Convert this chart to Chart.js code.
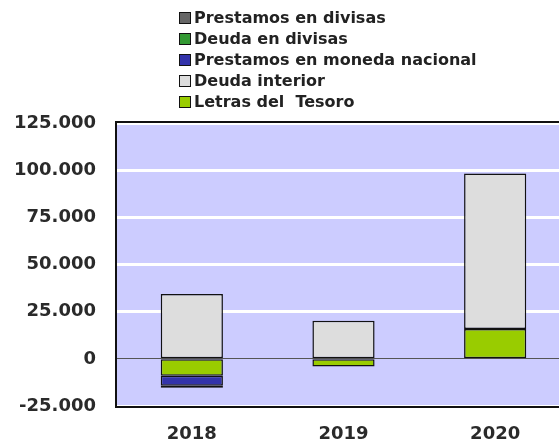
<!DOCTYPE html>
<html>
<head>
<meta charset="utf-8">
<script src="https://cdn.jsdelivr.net/npm/chart.js@4.4.1/dist/chart.umd.min.js"></script>
<style>
  html, body { margin: 0; padding: 0; background: #fff; overflow: hidden; }
  #wrap { position: relative; width: 559px; height: 443px; overflow: hidden; }
  #legend { position: absolute; left: 179px; top: 7px; font: bold 16px "DejaVu Sans", sans-serif; color: #222; }
  #legend div { height: 21px; line-height: 21px; display: flex; align-items: center; white-space: pre; }
  #legend span.box { display: inline-block; width: 10px; height: 10px; border: 1.5px solid #111; margin-right: 3px; }
</style>
</head>
<body>
<div id="wrap">
  <canvas id="chart" width="575" height="443"></canvas>
  <div id="legend"></div>
</div>
<script>
const years = ['2018', '2019', '2020'];

// stacking order: first series sits next to zero
const letrasTesoro = [-9000, -4000, 15800];
const deudaInterior = [34300, 20200, 82400];
const prestamosMonedaNacional = [-5300, null, null];
const deudaDivisas = [-1000, null, null];
const prestamosDivisas = [-200, null, null];

const yTicks = [-25000, 0, 25000, 50000, 75000, 100000, 125000];

const series = [
  { label: 'Letras del  Tesoro', data: letrasTesoro, color: '#99cc00' },
  { label: 'Deuda interior', data: deudaInterior, color: '#dddddd' },
  { label: 'Prestamos en moneda nacional', data: prestamosMonedaNacional, color: '#3333aa' },
  { label: 'Deuda en divisas', data: deudaDivisas, color: '#339933' },
  { label: 'Prestamos en divisas', data: prestamosDivisas, color: '#666666' }
];

function fmt(v) {
  return v.toLocaleString('de-DE');
}

// legend, top item first (reverse of stack order)
const legend = document.getElementById('legend');
series.slice().reverse().forEach(s => {
  const row = document.createElement('div');
  const box = document.createElement('span');
  box.className = 'box';
  box.style.background = s.color;
  row.appendChild(box);
  row.appendChild(document.createTextNode(s.label));
  legend.appendChild(row);
});

const plotBg = {
  id: 'plotBg',
  beforeDraw(chart) {
    const { ctx, chartArea: a } = chart;
    ctx.save();
    ctx.fillStyle = '#ccccff';
    ctx.fillRect(a.left, a.top, a.right - a.left, a.bottom - a.top);
    ctx.restore();
  },
  afterDatasetsDraw(chart) {
    const { ctx, chartArea: a } = chart;
    ctx.save();
    ctx.strokeStyle = '#111';
    ctx.lineWidth = 2;
    ctx.strokeRect(a.left, a.top - 1, a.right - a.left, a.bottom - a.top + 2);
    ctx.restore();
  }
};

new Chart(document.getElementById('chart'), {
  type: 'bar',
  data: {
    labels: years,
    datasets: series.map(s => ({
      label: s.label,
      data: s.data,
      backgroundColor: s.color,
      borderColor: '#111',
      borderWidth: 1.5,
      borderSkipped: false,
      categoryPercentage: 1,
      barPercentage: 0.41
    }))
  },
  options: {
    responsive: false,
    animation: false,
    layout: { padding: { top: 123, right: 4, left: 0, bottom: 0 } },
    plugins: {
      legend: { display: false },
      tooltip: { enabled: false }
    },
    scales: {
      x: {
        stacked: true,
        grid: { display: false },
        border: { display: false },
        ticks: { color: '#2a2a2a', font: { family: 'DejaVu Sans', size: 18, weight: 'bold' }, padding: 10 },
        afterFit(scale) { scale.height = 37; }
      },
      y: {
        stacked: true,
        min: -25000,
        max: 125000,
        afterBuildTicks(scale) { scale.ticks = yTicks.map(v => ({ value: v })); },
        grid: {
          drawTicks: false,
          color: c => c.tick && c.tick.value === 0 ? '#555' : '#ffffff',
          lineWidth: c => c.tick && c.tick.value === 0 ? 1 : 3
        },
        border: { display: false },
        ticks: {
          color: '#2a2a2a',
          font: { family: 'DejaVu Sans', size: 18, weight: 'bold' },
          padding: 20,
          callback: v => fmt(v)
        },
        afterFit(scale) { scale.width = 116; }
      }
    }
  },
  plugins: [plotBg]
});
</script>
</body>
</html>
